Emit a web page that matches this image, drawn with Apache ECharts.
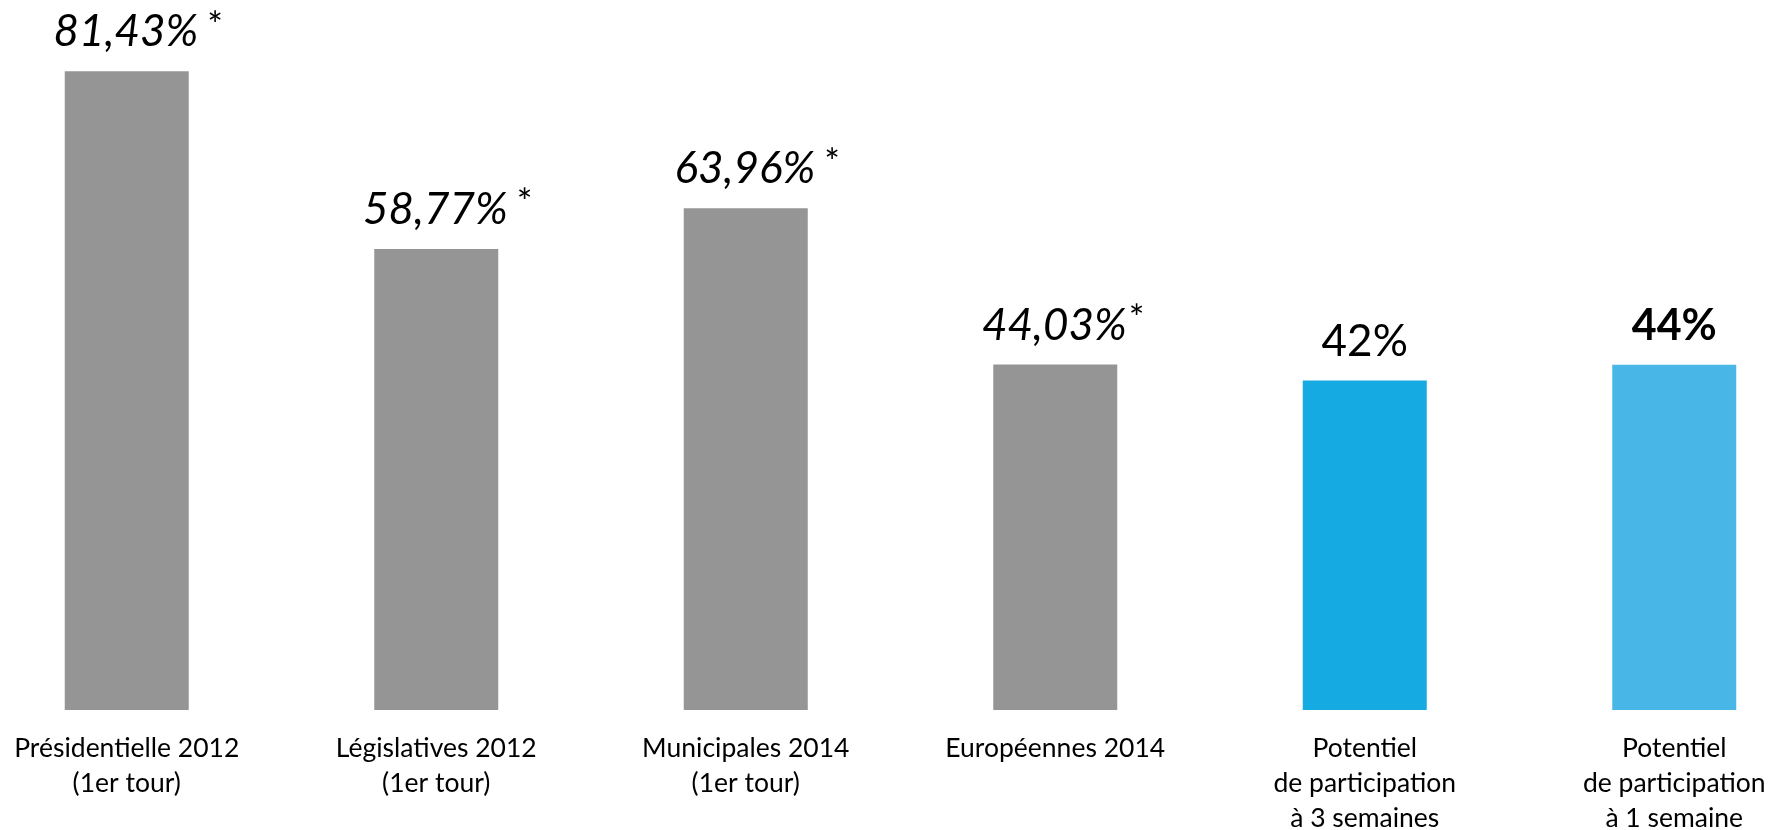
<!DOCTYPE html>
<html>
<head>
<meta charset="utf-8">
<script src="https://cdn.jsdelivr.net/npm/echarts@6/dist/echarts.min.js"></script>
<style>html,body{margin:0;padding:0;background:#fff;overflow:hidden;width:1774px;height:830px;}#c{width:1857px;height:830px;margin-left:-28px;}</style>
</head>
<body>
<div id="c"></div>
<script>
const categories = [
  'Présidentielle 2012\n(1er tour)',
  'Législatives 2012\n(1er tour)',
  'Municipales 2014\n(1er tour)',
  'Européennes 2014',
  'Potentiel\nde participation\nà 3 semaines',
  'Potentiel\nde participation\nà 1 semaine'
];
const values = [81.43, 58.77, 63.96, 44.03, 42, 44];
const valueLabels = ['81,43%', '58,77%', '63,96%', '44,03%', '42%', '44%'];
const labelStyles = ['hist', 'hist', 'hist', 'hist', 'plain', 'bold'];
const barColors = ['#959595', '#959595', '#959595', '#959595', '#15AAE1', '#48B7E7'];

const chart = echarts.init(document.getElementById('c'));
const data = values.map((v, i) => ({
  value: v,
  itemStyle: { color: barColors[i] },
  label: {
    formatter: labelStyles[i] === 'hist'
      ? (i === 3 ? '{v2|' + valueLabels[i] + '}{s2|*}' : '{v|' + valueLabels[i] + '}{s|*}')
      : (labelStyles[i] === 'bold' ? '{b|' + valueLabels[i] + '}' : '{p|' + valueLabels[i] + '}')
  }
}));
chart.setOption({
  animation: false,
  grid: { left: 0, right: 0, top: 0, bottom: 120, containLabel: false, outerBoundsMode: 'none' },
  xAxis: {
    type: 'category',
    data: categories,
    axisLine: { show: false },
    axisTick: { show: false },
    axisLabel: {
      interval: 0,
      margin: 21,
      fontFamily: 'Lato',
      fontSize: 26.5,
      lineHeight: 35,
      color: '#000'
    }
  },
  yAxis: { type: 'value', min: 0, max: 90.5, show: false, splitLine: { show: false } },
  series: [{
    type: 'bar',
    data: data,
    barWidth: 124,
    label: {
      show: true,
      position: 'top',
      distance: 14,
      rich: {
        v: { fontFamily: 'Lato', fontStyle: 'italic', fontSize: 44, lineHeight: 50, color: '#000', padding: [0, 0, 0, 23] },
        v2: { fontFamily: 'Lato', fontStyle: 'italic', fontSize: 44, lineHeight: 50, color: '#000', padding: [0, 0, 0, 16] },
        s: { fontFamily: 'Lato', fontSize: 37, lineHeight: 50, color: '#000', verticalAlign: 'top', padding: [0, 0, 0, 9] },
        s2: { fontFamily: 'Lato', fontSize: 37, lineHeight: 50, color: '#000', verticalAlign: 'top', padding: [0, 0, 0, 2] },
        p: { fontFamily: 'Lato', fontSize: 44, lineHeight: 50, color: '#000' },
        b: { fontFamily: 'Lato', fontWeight: 'bold', fontSize: 43, lineHeight: 50, color: '#000' }
      }
    }
  }]
});
</script>
</body>
</html>
